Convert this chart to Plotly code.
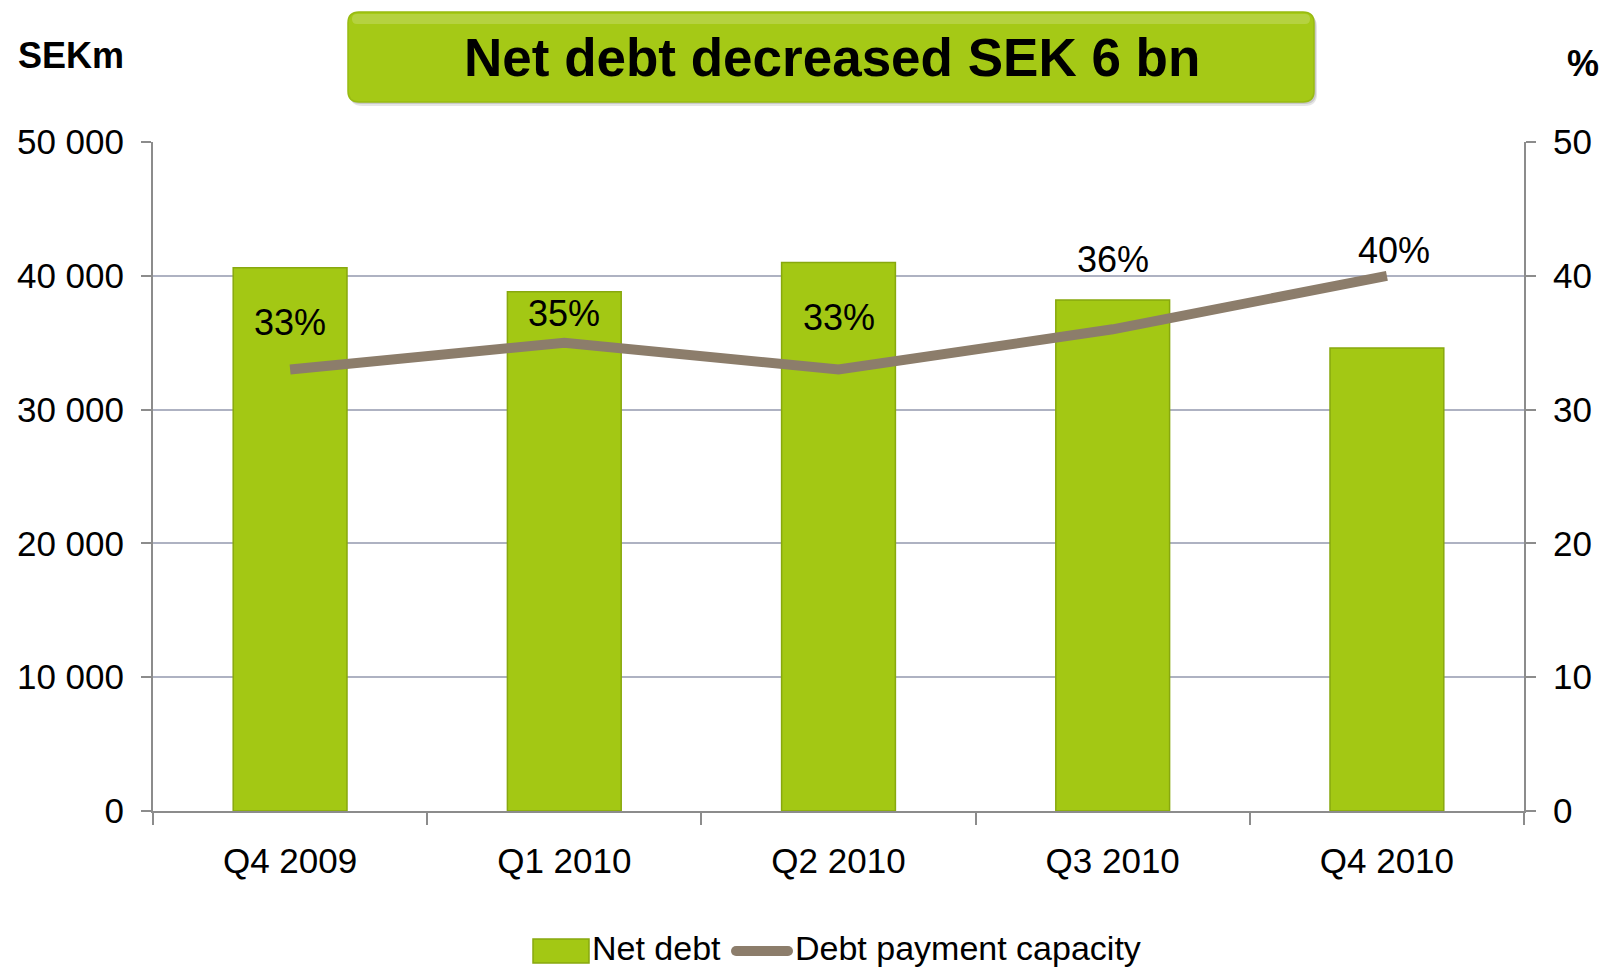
import plotly.graph_objects as go

categories = ["Q4 2009", "Q1 2010", "Q2 2010", "Q3 2010", "Q4 2010"]
net_debt = [40600, 38800, 41000, 38200, 34600]
capacity = [33, 35, 33, 36, 40]
capacity_labels = ["33%", "35%", "33%", "36%", "40%"]
left_ticks = [0, 10000, 20000, 30000, 40000, 50000]
left_tick_text = ["0", "10 000", "20 000", "30 000", "40 000", "50 000"]
right_ticks = [0, 10, 20, 30, 40, 50]

W, H = 1601, 970
L, R, T, B = 153, 77, 142, 159
PW, PH = W - L - R, H - T - B
FONT = "Liberation Sans, Arial, sans-serif"
GREEN = "#A3C814"
GREEN_EDGE = "#88A80E"
LINE = "#8C7D6B"
GRID = "#AEB2C2"
AXIS = "#8C8C8C"
TICK_SIZE = 35


def px(x):
    return (x - L) / PW


def py(y):
    return (H - B - y) / PH


def rounded_rect(x0, y0, x1, y1, r):
    rx, ry = r / PW, r / PH
    X0, X1 = px(x0), px(x1)
    Y0, Y1 = py(y0), py(y1)  # Y0 top, Y1 bottom
    return (f"M {X0+rx},{Y0} L {X1-rx},{Y0} Q {X1},{Y0} {X1},{Y0-ry} "
            f"L {X1},{Y1+ry} Q {X1},{Y1} {X1-rx},{Y1} L {X0+rx},{Y1} "
            f"Q {X0},{Y1} {X0},{Y1+ry} L {X0},{Y0-ry} Q {X0},{Y0} {X0+rx},{Y0} Z")


fig = go.Figure()
fig.add_trace(go.Bar(
    x=categories, y=net_debt, name="Net debt",
    marker=dict(color=GREEN, line=dict(color=GREEN_EDGE, width=1.5)),
    width=0.415, yaxis="y", showlegend=False,
))
fig.add_trace(go.Scatter(
    x=categories, y=capacity, name="Debt payment capacity", mode="lines",
    line=dict(color=LINE, width=10), yaxis="y2", showlegend=False,
))

annotations = []
# data labels
label_dy = [45, 27, 50, 68, 23]
label_dx = [0, 0, 0, 0, 7]
for c, v, t, dy, dx in zip(categories, capacity, capacity_labels, label_dy, label_dx):
    annotations.append(dict(x=c, y=v, xref="x", yref="y2", text=t, showarrow=False,
                            yshift=dy + 2, xshift=dx,
                            font=dict(family=FONT, size=36, color="black")))

shapes = []
# title box shadow + box
shapes.append(dict(type="path", xref="paper", yref="paper",
                   path=rounded_rect(350, 15, 1317, 106, 12),
                   fillcolor="rgba(0,0,0,0.10)", line=dict(width=0), layer="above"))
shapes.append(dict(type="path", xref="paper", yref="paper",
                   path=rounded_rect(349, 14, 1316, 104, 11),
                   fillcolor="rgba(0,0,0,0.12)", line=dict(width=0), layer="above"))
shapes.append(dict(type="path", xref="paper", yref="paper",
                   path=rounded_rect(348, 12, 1314, 102, 11),
                   fillcolor="#A5C916", line=dict(color="#98BA12", width=1.5), layer="above"))
shapes.append(dict(type="path", xref="paper", yref="paper",
                   path=rounded_rect(352, 14, 1310, 24, 5),
                   fillcolor="rgba(255,255,255,0.18)", line=dict(width=0), layer="above"))
# legend symbols
shapes.append(dict(type="rect", xref="paper", yref="paper",
                   x0=px(533), x1=px(589), y0=py(963), y1=py(939),
                   fillcolor=GREEN, line=dict(color=GREEN_EDGE, width=1.5)))
shapes.append(dict(type="line", xref="paper", yref="paper",
                   x0=px(736), x1=px(788), y0=py(951), y1=py(951),
                   line=dict(color=LINE, width=10)))
shapes.append(dict(type="circle", xref="paper", yref="paper",
                   x0=px(731), x1=px(741), y0=py(956), y1=py(946),
                   fillcolor=LINE, line=dict(width=0)))
shapes.append(dict(type="circle", xref="paper", yref="paper",
                   x0=px(783), x1=px(793), y0=py(956), y1=py(946),
                   fillcolor=LINE, line=dict(width=0)))

annotations += [
    dict(x=px(832), y=py(57), xref="paper", yref="paper", text="<b>Net debt decreased SEK 6 bn</b>",
         showarrow=False, xanchor="center", yanchor="middle",
         font=dict(family=FONT, size=53, color="black")),
    dict(x=px(16), y=py(56), xref="paper", yref="paper", text="<b>SEKm</b>",
         showarrow=False, xanchor="left", yanchor="middle",
         font=dict(family=FONT, size=36, color="black")),
    dict(x=px(1565), y=py(63), xref="paper", yref="paper", text="<b>%</b>",
         showarrow=False, xanchor="left", yanchor="middle",
         font=dict(family=FONT, size=36, color="black")),
    dict(x=px(590), y=py(948), xref="paper", yref="paper", text="Net debt",
         showarrow=False, xanchor="left", yanchor="middle",
         font=dict(family=FONT, size=34, color="black")),
    dict(x=px(793), y=py(948), xref="paper", yref="paper", text="Debt payment capacity",
         showarrow=False, xanchor="left", yanchor="middle",
         font=dict(family=FONT, size=34, color="black")),
]

fig.update_layout(
    width=W, height=H,
    margin=dict(l=L, r=R, t=T, b=B, autoexpand=False),
    paper_bgcolor="white", plot_bgcolor="white",
    showlegend=False,
    font=dict(family=FONT, size=TICK_SIZE, color="black"),
    xaxis=dict(
        type="category", showline=True, linecolor=AXIS, linewidth=2,
        ticks="outside", tickson="boundaries", ticklen=12, tickcolor=AXIS, tickwidth=2,
        showgrid=False, ticklabelstandoff=18, tickfont=dict(size=TICK_SIZE),
        range=[-0.5, 4.5],
    ),
    yaxis=dict(
        range=[0, 50000], tickvals=left_ticks, ticktext=left_tick_text,
        showline=True, linecolor=AXIS, linewidth=2,
        ticks="outside", ticklen=10, tickcolor=AXIS, tickwidth=2,
        showgrid=True, gridcolor=GRID, gridwidth=2, zeroline=False,
        ticklabelstandoff=10, tickfont=dict(size=TICK_SIZE),
    ),
    yaxis2=dict(
        range=[0, 50], tickvals=right_ticks, overlaying="y", side="right",
        showline=True, linecolor=AXIS, linewidth=2,
        ticks="outside", ticklen=10, tickcolor=AXIS, tickwidth=2,
        showgrid=False, zeroline=False,
        ticklabelstandoff=10, tickfont=dict(size=TICK_SIZE),
    ),
    shapes=shapes,
    annotations=annotations,
)

fig.write_html("out.html", config={"displayModeBar": False},
               post_script="document.body.style.margin='0px';document.body.style.overflow='hidden';")
